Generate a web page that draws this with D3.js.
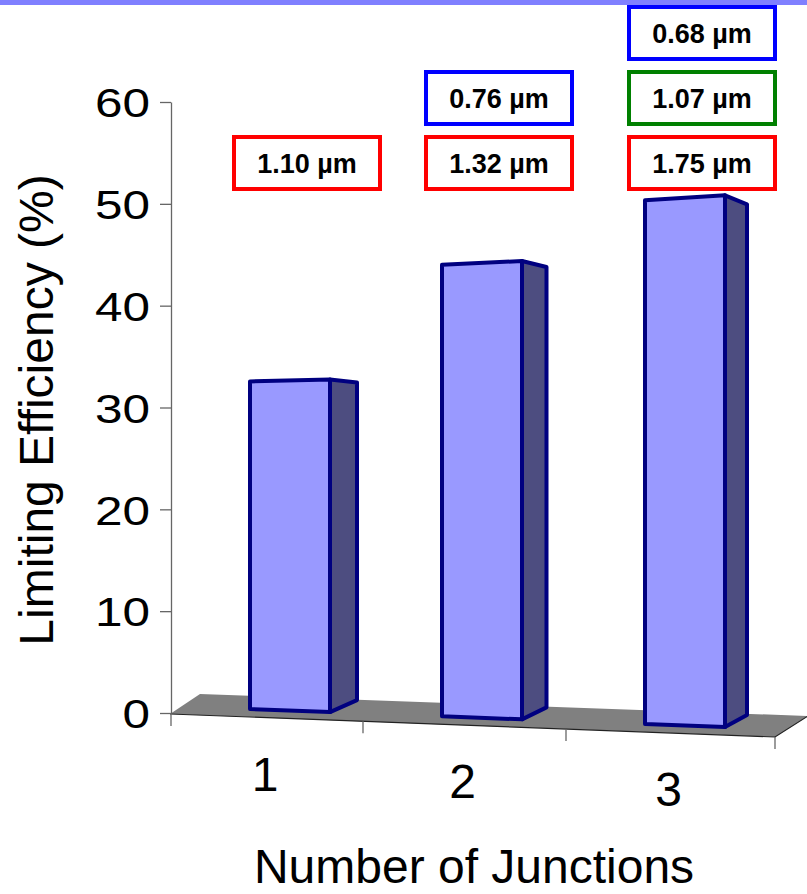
<!DOCTYPE html>
<html>
<head>
<meta charset="utf-8">
<script src="https://cdn.jsdelivr.net/npm/d3@7"></script>
<style>
  html, body { margin: 0; padding: 0; background: #fff; }
  svg { display: block; font-family: "Liberation Sans", Arial, sans-serif; }
</style>
</head>
<body>
<div id="chart"></div>
<script>
// values
const junctions = ["1", "2", "3"];
const efficiency = [31.7, 43.7, 50.7];
const bandgaps = [
  ["1.10 µm"],
  ["1.32 µm", "0.76 µm"],
  ["1.75 µm", "1.07 µm", "0.68 µm"]
];
const yTicks = [0, 10, 20, 30, 40, 50, 60];

const width = 807, height = 894;

const svg = d3.select("#chart").append("svg")
  .attr("width", width)
  .attr("height", height);

// lavender strip across the top
svg.append("rect")
  .attr("x", 0).attr("y", 0)
  .attr("width", width).attr("height", 5)
  .attr("fill", "#8080ff");

// back-wall value scale (the axis)
const y = d3.scaleLinear().domain([0, 60]).range([713, 102]);
// front face heights are a bit bigger (closer to viewer)
const h = d3.scaleLinear().domain([0, 60]).range([0, 620]);

// category tick positions along the (perspective) front edge
const xTick = d3.scaleLinear().domain([0, 1, 2, 3]).range([171, 363, 566, 775]);
// y of the floor's front edge for a given x
const floorFront = d3.scaleLinear().domain([171, 775]).range([714, 737]);
const sideW = d3.scaleLinear().domain([0, 2]).range([27, 22]);
const topDrop = d3.scaleLinear().domain([0, 2]).range([3, 9]);

// floor
const fl = [[170, 714], [775, 737], [808, 716], [200, 694]];
svg.append("path")
  .attr("d", d3.line()(fl) + "Z")
  .attr("fill", "#808080");
svg.append("path")
  .attr("d", d3.line()([fl[0], fl[1], fl[2]]))
  .attr("fill", "none")
  .attr("stroke", "#222")
  .attr("stroke-width", 1.2);

// x ticks below front edge
svg.append("g")
  .selectAll("line")
  .data(d3.range(4))
  .join("line")
    .attr("x1", d => xTick(d)).attr("x2", d => xTick(d))
    .attr("y1", d => floorFront(xTick(d)))
    .attr("y2", d => floorFront(xTick(d)) + 12)
    .attr("stroke", "#666")
    .attr("stroke-width", 1.3);

// y axis
const yAxis = svg.append("g")
  .attr("transform", "translate(171,0)")
  .call(d3.axisLeft(y).tickValues(yTicks).tickSize(11).tickSizeOuter(0).tickPadding(10));
yAxis.select(".domain").attr("stroke", "#666").attr("stroke-width", 1.3);
yAxis.selectAll(".tick line").attr("stroke", "#666").attr("stroke-width", 1.3);
yAxis.selectAll(".tick text")
  .attr("fill", "#000")
  .attr("font-size", "41px")
  .attr("font-family", "Liberation Sans, Arial, sans-serif")
  .attr("dy", "0.36em")
  .attr("textLength", d => String(d).length * 27.5)
  .attr("lengthAdjust", "spacingAndGlyphs");

// bars
const bars = junctions.map((j, i) => {
  const xl = xTick(i) + 79, xr = xl + 80;
  const yl = floorFront(xl) - 8, yr = floorFront(xr) - 8;
  const hv = h(efficiency[i]);
  const tl = yl - hv, tr = yr - hv * 1.015;
  const w = sideW(i);
  return {
    i, xl, xr,
    front: [[xl, yl], [xr, yr], [xr, tr], [xl, tl]],
    side: [[xr, yr], [xr + w, yr - 12], [xr + w, tr + topDrop(i)], [xr, tr]]
  };
});

const gBars = svg.append("g")
  .attr("stroke", "#000080")
  .attr("stroke-width", 4)
  .attr("stroke-linejoin", "round");

gBars.selectAll("path.side")
  .data(bars)
  .join("path")
    .attr("class", "side")
    .attr("d", d => d3.line()(d.side) + "Z")
    .attr("fill", "#4d4d80");

gBars.selectAll("path.front")
  .data(bars)
  .join("path")
    .attr("class", "front")
    .attr("d", d => d3.line()(d.front) + "Z")
    .attr("fill", "#9999ff");

// bandgap boxes, stacked upward from the bottom row
const boxColor = (r, n) => r === 0 ? "#ff0000" : (r === n - 1 ? "#0000ff" : "#008000");
const boxes = [];
bandgaps.forEach((list, i) => {
  list.forEach((txt, r) => boxes.push({ i, r, n: list.length, txt, cx: bars[i].xl + 57 }));
});

const gBox = svg.append("g")
  .selectAll("g")
  .data(boxes)
  .join("g")
    .attr("transform", d => `translate(${d.cx},${135 - d.r * 65})`);

gBox.append("rect")
  .attr("x", -73).attr("y", 2)
  .attr("width", 146).attr("height", 52)
  .attr("fill", "#fff")
  .attr("stroke", d => boxColor(d.r, d.n))
  .attr("stroke-width", 4);

gBox.append("text")
  .attr("x", 0).attr("y", 38)
  .attr("text-anchor", "middle")
  .attr("font-size", "27px")
  .attr("font-weight", "bold")
  .text(d => d.txt);

// category labels
svg.append("g")
  .selectAll("text")
  .data(junctions)
  .join("text")
    .attr("x", (d, i) => (xTick(i) + xTick(i + 1)) / 2 - 2)
    .attr("y", (d, i) => floorFront((xTick(i) + xTick(i + 1)) / 2) + 73)
    .attr("text-anchor", "middle")
    .attr("font-size", "48px")
    .text(d => d);

// axis titles
svg.append("text")
  .attr("x", 474).attr("y", 883)
  .attr("text-anchor", "middle")
  .attr("font-size", "48px")
  .text("Number of Junctions");

svg.append("text")
  .attr("transform", "translate(53,410) rotate(-90)")
  .attr("text-anchor", "middle")
  .attr("font-size", "48px")
  .text("Limiting Efficiency (%)");
</script>
</body>
</html>
